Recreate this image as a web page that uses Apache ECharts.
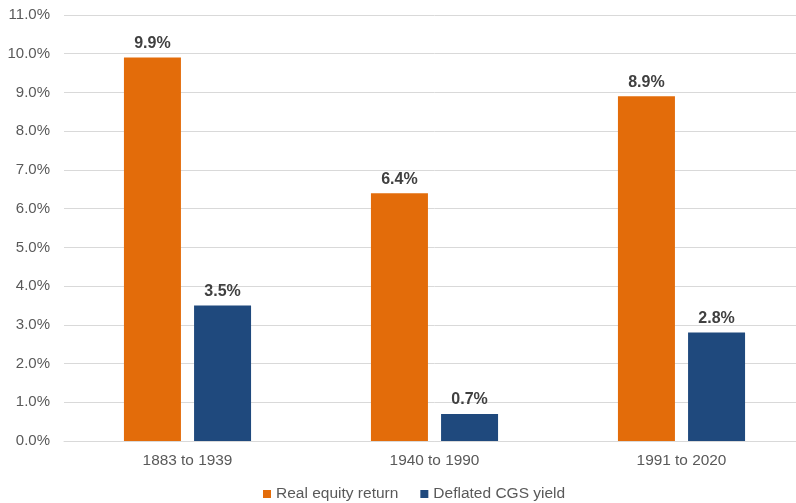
<!DOCTYPE html>
<html>
<head>
<meta charset="utf-8">
<script src="https://cdn.jsdelivr.net/npm/echarts@6/dist/echarts.min.js"></script>
<style>
  html, body { margin: 0; padding: 0; background: #fff; overflow: hidden; }
  #chart { width: 805px; height: 503px; }
</style>
</head>
<body>
<div id="chart"></div>
<script>
// Periods and average annual real returns (%)
const periods = ['1883 to 1939', '1940 to 1990', '1991 to 2020'];
const realEquityReturn = [9.9, 6.4, 8.9];
const deflatedCgsYield = [3.5, 0.7, 2.8];
const seriesNames = ['Real equity return', 'Deflated CGS yield'];

const FONT = '"Liberation Sans", Arial, sans-serif';

const chart = echarts.init(document.getElementById('chart'), null, { renderer: 'canvas' });

const labelStyle = {
  show: true,
  position: 'top',
  distance: 6,
  fontFamily: FONT,
  fontSize: 16,
  fontWeight: 'bold',
  color: '#404040',
  formatter: p => p.value.toFixed(1) + '%'
};

chart.setOption({
  animation: false,
  backgroundColor: '#ffffff',
  // plot area runs past the right edge of the visible page
  grid: { left: 64, top: 15, right: 0, height: 426, containLabel: false },
  legend: {
    top: 481,
    left: 258,
    icon: 'rect',
    itemWidth: 8,
    itemHeight: 8,
    itemGap: 22,
    textStyle: { fontFamily: FONT, fontSize: 15.5, color: '#595959' },
    data: seriesNames
  },
  xAxis: {
    type: 'category',
    data: periods,
    axisLine: { show: true, lineStyle: { color: '#d9d9d9', width: 1 } },
    axisTick: { show: false },
    axisLabel: { fontFamily: FONT, fontSize: 15.4, color: '#595959', margin: 12 }
  },
  yAxis: {
    type: 'value',
    min: 0,
    max: 11,
    interval: 1,
    axisLine: { show: false },
    axisTick: { show: false },
    splitLine: { lineStyle: { color: '#d9d9d9', width: 1 } },
    axisLabel: {
      fontFamily: FONT, fontSize: 15, color: '#595959', margin: 14,
      formatter: v => v.toFixed(1) + '%'
    }
  },
  series: [
    {
      name: seriesNames[0],
      type: 'bar',
      data: realEquityReturn,
      barWidth: 57,
      barGap: '23%',
      itemStyle: { color: '#E36C0A' },
      label: labelStyle
    },
    {
      name: seriesNames[1],
      type: 'bar',
      data: deflatedCgsYield,
      barWidth: 57,
      barGap: '23%',
      itemStyle: { color: '#1F497D' },
      label: labelStyle
    }
  ]
});
</script>
</body>
</html>
